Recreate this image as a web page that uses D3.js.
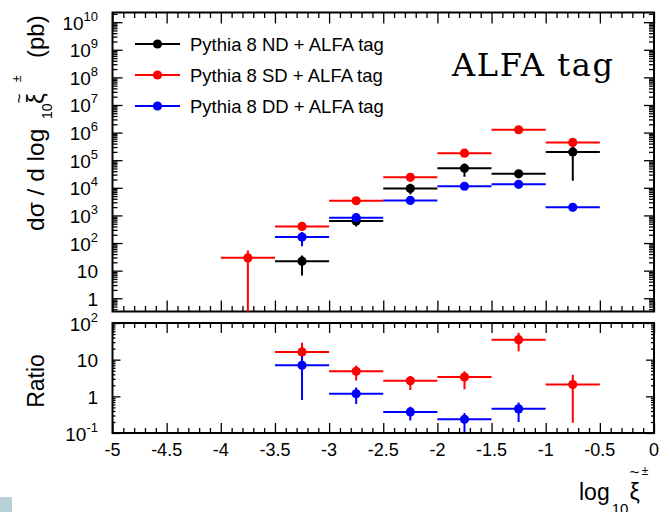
<!DOCTYPE html>
<html>
<head>
<meta charset="utf-8">
<script src="https://cdn.jsdelivr.net/npm/d3@7/dist/d3.min.js"></script>
<style>
  html, body { margin: 0; padding: 0; background: #fff; }
  svg { display: block; }
</style>
</head>
<body>
<svg id="chart" width="665" height="512"></svg>
<script>
// ---- data: differential cross section per bin (pb) ----
const binHalfWidth = 0.25;

const ndX   = [-3.25, -2.75, -2.25, -1.75, -1.25, -0.75];
const ndVal = [22, 630, 9400, 51000, 32000, 200000];
const ndLo  = [6.6, 400, 5900, 25000, 27000, 18000];
const ndHi  = [35, 750, 14000, 76000, 38000, 300000];

const sdX   = [-3.75, -3.25, -2.75, -2.25, -1.75, -1.25, -0.75];
const sdVal = [29, 400, 3400, 24000, 180000, 1270000, 440000];
const sdLo  = [0, 330, 3000, 21000, 160000, 1150000, 380000];
const sdHi  = [54, 480, 3800, 27000, 200000, 1400000, 500000];

const ddX   = [-3.25, -2.75, -2.25, -1.75, -1.25, -0.75];
const ddVal = [164, 830, 3500, 11400, 13400, 1960];
const ddLo  = [76, 720, 3200, 10500, 12300, 1800];
const ddHi  = [250, 950, 3800, 12300, 14500, 2100];

// ---- ratios to ND ----
const sdRatioX   = [-3.25, -2.75, -2.25, -1.75, -1.25, -0.75];
const sdRatio    = [16.3, 4.8, 2.66, 3.36, 35, 2.1];
const sdRatioLo  = [10, 2.7, 1.5, 1.57, 17, 0.19];
const sdRatioHi  = [29, 6.9, 3.6, 4.8, 54, 3.9];

const ddRatioX   = [-3.25, -2.75, -2.25, -1.75, -1.25];
const ddRatio    = [7.0, 1.17, 0.376, 0.237, 0.455];
const ddRatioLo  = [0.8, 0.62, 0.22, 0.105, 0.2];
const ddRatioHi  = [12.3, 1.74, 0.52, 0.35, 0.68];

// ---- axis ticks / labels ----
const xTickLabels = ["-5", "-4.5", "-4", "-3.5", "-3", "-2.5", "-2", "-1.5", "-1", "-0.5", "0"];
const upperDecades = [0, 1, 2, 3, 4, 5, 6, 7, 8, 9, 10];
const ratioDecades = [-1, 0, 1, 2];

const legendLabels = ["Pythia 8 ND + ALFA tag", "Pythia 8 SD + ALFA tag", "Pythia 8 DD + ALFA tag"];
const seriesColors = ["#000000", "#ff0000", "#0000ff"];

// ---- layout ----
const SANS = "'Liberation Sans', Arial, Helvetica, sans-serif";
const X0 = 112.5, X1 = 654;
const U0 = 12.5, U1 = 311.5;   // upper pad frame
const R0 = 323, R1 = 433;      // ratio pad frame

const svg = d3.select("#chart");

const x = d3.scaleLinear().domain([-5, 0]).range([X0, X1]);
const yU = d3.scaleLog().domain([Math.pow(10, -0.48), Math.pow(10, 10.35)]).range([U1, U0]);
const yR = d3.scaleLog().domain([0.1, 100]).range([R1, R0]);

function logMinorValues(scale) {
  const [lo, hi] = scale.domain();
  const out = [];
  for (let d = Math.floor(Math.log10(lo)) - 1; d <= Math.ceil(Math.log10(hi)); d++) {
    for (let k = 2; k <= 9; k++) {
      const v = k * Math.pow(10, d);
      if (v > lo && v < hi) out.push(v);
    }
  }
  return out;
}

// Draw inward ticks on all four sides of a pad using d3 axes
function drawFrameTicks(yScale, top, bottom, xMaj, xMin, yMaj, yMin, yMajorVals) {
  const g = svg.append("g");
  const xMajorVals = d3.range(0, 11).map(i => -5 + i * 0.5);
  const xMinorVals = d3.range(0, 51).map(i => -5 + i * 0.1).filter((v, i) => i % 5 !== 0);
  const yMinorVals = logMinorValues(yScale);
  const clean = sel => { sel.select(".domain").remove(); sel.selectAll("text").remove();
    sel.selectAll("line").attr("stroke", "#000").attr("stroke-width", 1.3); };

  const specs = [
    [d3.axisBottom(x).tickValues(xMajorVals).tickSize(-xMaj), `translate(0,${bottom})`],
    [d3.axisBottom(x).tickValues(xMinorVals).tickSize(-xMin), `translate(0,${bottom})`],
    [d3.axisTop(x).tickValues(xMajorVals).tickSize(-xMaj), `translate(0,${top})`],
    [d3.axisTop(x).tickValues(xMinorVals).tickSize(-xMin), `translate(0,${top})`],
    [d3.axisLeft(yScale).tickValues(yMajorVals).tickSize(-yMaj), `translate(${X0},0)`],
    [d3.axisLeft(yScale).tickValues(yMinorVals).tickSize(-yMin), `translate(${X0},0)`],
    [d3.axisRight(yScale).tickValues(yMajorVals).tickSize(-yMaj), `translate(${X1},0)`],
    [d3.axisRight(yScale).tickValues(yMinorVals).tickSize(-yMin), `translate(${X1},0)`]
  ];
  specs.forEach(([ax, tr]) => g.append("g").attr("transform", tr).call(ax).call(clean));

  g.append("rect")
    .attr("x", X0).attr("y", top).attr("width", X1 - X0).attr("height", bottom - top)
    .attr("fill", "none").attr("stroke", "#000").attr("stroke-width", 2);
}

// power-of-ten labels on a log axis
function drawLogLabels(yScale, decades) {
  const g = svg.append("g").attr("font-family", SANS).attr("fill", "#000");
  decades.forEach(d => {
    const t = g.append("text")
      .attr("x", 98).attr("y", yScale(Math.pow(10, d)) + 7.5)
      .attr("text-anchor", "end").attr("font-size", 19);
    if (d === 0) t.text("1");
    else if (d === 1) t.text("10");
    else {
      t.append("tspan").text("10");
      t.append("tspan").attr("dy", -9).attr("font-size", 13).text(String(d));
    }
  });
}

// rich-text layout (sub/superscripts, accents); pieces may give an absolute offset "at"
function richText(g, pieces) {
  let cx = 0, lastStart = 0, lastW = 0;
  pieces.forEach(p => {
    const t = g.append("text").attr("font-family", SANS).attr("font-size", p.size)
      .attr("y", p.dy || 0).text(p.t);
    const w = t.node().getComputedTextLength();
    if (p.over) {
      t.attr("x", lastStart + (lastW - w) / 2 + (p.dx || 0));
    } else {
      const sx = p.at !== undefined ? p.at : cx + (p.dx || 0);
      t.attr("x", sx);
      lastStart = sx; lastW = w;
      cx = sx + w;
    }
  });
  return cx;
}

// ---- upper pad ----
drawFrameTicks(yU, U0, U1, 11, 5.5, 10, 5, upperDecades.map(d => Math.pow(10, d)));
drawLogLabels(yU, upperDecades);

// ---- ratio pad ----
drawFrameTicks(yR, R0, R1, 10, 5, 8, 3, ratioDecades.map(d => Math.pow(10, d)));
drawLogLabels(yR, ratioDecades);

// x tick labels (bottom of ratio pad)
svg.append("g").attr("font-family", SANS).attr("font-size", 18)
  .selectAll("text").data(xTickLabels).join("text")
  .attr("x", d => x(+d)).attr("y", 456).attr("text-anchor", "middle").text(d => d);

// ---- data markers with error bars ----
function drawSeries(clipId, yScale, xs, vals, los, his, color, bottomY) {
  const g = svg.append("g").attr("clip-path", `url(#${clipId})`)
    .attr("stroke", color).attr("fill", color).attr("stroke-width", 2);
  const pts = xs.map((xv, i) => ({ xv, v: vals[i], lo: los[i], hi: his[i] }));
  g.selectAll("line.h").data(pts).join("line").attr("class", "h")
    .attr("x1", d => x(d.xv - binHalfWidth)).attr("x2", d => x(d.xv + binHalfWidth))
    .attr("y1", d => yScale(d.v)).attr("y2", d => yScale(d.v));
  g.selectAll("line.v").data(pts).join("line").attr("class", "v")
    .attr("x1", d => x(d.xv)).attr("x2", d => x(d.xv))
    .attr("y1", d => d.lo > 0 ? yScale(d.lo) : bottomY + 5).attr("y2", d => yScale(d.hi));
  g.selectAll("circle").data(pts).join("circle")
    .attr("cx", d => x(d.xv)).attr("cy", d => yScale(d.v)).attr("r", 4.6).attr("stroke", "none");
}

const defs = svg.append("defs");
defs.append("clipPath").attr("id", "clipU").append("rect")
  .attr("x", X0).attr("y", U0).attr("width", X1 - X0).attr("height", U1 - U0);
defs.append("clipPath").attr("id", "clipR").append("rect")
  .attr("x", X0).attr("y", R0).attr("width", X1 - X0).attr("height", R1 - R0);

drawSeries("clipU", yU, ndX, ndVal, ndLo, ndHi, seriesColors[0], U1);
drawSeries("clipU", yU, sdX, sdVal, sdLo, sdHi, seriesColors[1], U1);
drawSeries("clipU", yU, ddX, ddVal, ddLo, ddHi, seriesColors[2], U1);

drawSeries("clipR", yR, sdRatioX, sdRatio, sdRatioLo, sdRatioHi, seriesColors[1], R1);
drawSeries("clipR", yR, ddRatioX, ddRatio, ddRatioLo, ddRatioHi, seriesColors[2], R1);

// ---- legend ----
const leg = svg.append("g");
legendLabels.forEach((lab, i) => {
  const ly = 44 + i * 31;
  leg.append("line").attr("x1", 135).attr("x2", 180).attr("y1", ly).attr("y2", ly)
    .attr("stroke", seriesColors[i]).attr("stroke-width", 2);
  leg.append("circle").attr("cx", 157.5).attr("cy", ly).attr("r", 4.6).attr("fill", seriesColors[i]);
  leg.append("text").attr("x", 190).attr("y", ly + 6.5).attr("font-family", SANS)
    .attr("font-size", 18.5).text(lab);
});

// ---- pad caption ----
svg.append("text").attr("x", 452).attr("y", 76)
  .attr("font-family", "'DejaVu Serif', 'Liberation Serif', serif")
  .attr("font-size", 32).attr("textLength", 161).attr("lengthAdjust", "spacing")
  .text("ALFA tag");

// ---- axis titles ----
const yTitle = svg.append("g").attr("transform", "translate(44,231) rotate(-90)");
richText(yTitle, [
  { t: "d\u03c3 / d log", size: 24.5 },
  { t: "10", size: 14, dy: 8, at: 112 },
  { t: "\u03be", size: 24, at: 127 },
  { t: "~", size: 17, over: true, dy: -19 },
  { t: "\u00b1", size: 12, dy: -23, at: 149 },
  { t: "(pb)", size: 24, at: 173 }
]);

svg.append("text").attr("transform", "translate(44,381) rotate(-90)")
  .attr("text-anchor", "middle").attr("font-family", SANS).attr("font-size", 23).text("Ratio");

const xTitle = svg.append("g").attr("transform", "translate(579,500)");
richText(xTitle, [
  { t: "log", size: 23 },
  { t: "10", size: 15, dy: 14, dx: 2 },
  { t: "\u03be", size: 23, dx: 1 },
  { t: "~", size: 17, over: true, dy: -22 },
  { t: "\u00b1", size: 12, dy: -25, dx: 2 }
]);

// small corner swatch
svg.append("rect").attr("x", 0).attr("y", 497).attr("width", 12).attr("height", 15).attr("fill", "#b7cfd7");
</script>
</body>
</html>
